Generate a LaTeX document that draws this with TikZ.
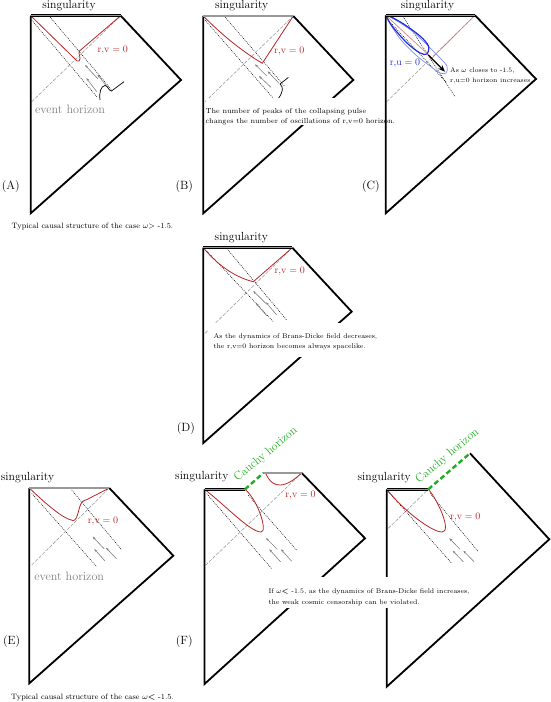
\documentclass[tikz,border=0pt]{standalone}
\usepackage{tikz}
\usetikzlibrary{arrows.meta}
\usepackage{amssymb}
\usepackage{amsmath}

\definecolor{rvred}{RGB}{185,35,35}
\definecolor{rufaint}{RGB}{215,120,120}
\definecolor{rublue}{RGB}{35,45,225}
\definecolor{rulight}{RGB}{125,140,250}
\definecolor{cgreen}{RGB}{30,175,30}

\tikzset{
  frame/.style={line width=1.8bp},
  sing/.style={line width=0.75bp, double=gray!80, double distance=1.2bp},
  nullray/.style={dash pattern=on 0.9bp off 1.1bp, line width=0.5bp},
  eh/.style={gray!75, dash pattern=on 3.5bp off 1.5bp, line width=0.6bp},
  rv/.style={rvred, line width=0.8bp},
  flux/.style={gray, line width=0.6bp, -{Stealth[length=3.2bp,width=2.4bp]}},
  pulse/.style={line width=0.7bp},
  cauchy/.style={cgreen, line width=2.4bp, dash pattern=on 5bp off 3bp},
  singlabel/.style={anchor=base, inner sep=0pt, font=\fontsize{11.8}{14}\selectfont},
  rvlabel/.style={anchor=base, inner sep=0pt, rvred, font=\fontsize{10.3}{12}\selectfont},
  ehlabel/.style={anchor=base, inner sep=0pt, gray, font=\fontsize{12.2}{14}\selectfont},
  tag/.style={anchor=base, inner sep=0pt, font=\fontsize{12}{14}\selectfont},
  caption/.style={anchor=base, inner sep=0pt, font=\fontsize{7.8}{10}\selectfont},
  note/.style={anchor=base west, inner sep=0pt, font=\fontsize{6.7}{10}\selectfont},
  cauchylabel/.style={anchor=base west, inner sep=0pt, cgreen, rotate=40, font=\fontsize{11.8}{14}\selectfont}
}

\begin{document}
\begin{tikzpicture}[x=1bp,y=-1bp]
\useasboundingbox (0,0) rectangle (551,702);

% ---------- (A) ----------
\coordinate (A-tl) at (30.7,15.7);
\coordinate (A-tr) at (120.7,15.7);
\coordinate (A-r) at (181,80);
\coordinate (A-b) at (30.7,213.3);
\draw[nullray] (31.7,20) -- (96.7,96.7);
\draw[nullray] (50,17) -- (111.7,90);
\draw[eh] (31.7,101.7) -- (A-tr);
\draw[rv] (A-tl) -- (75,59) .. controls (77.5,62.8) and (82,62.5) .. (79,53.5) -- (79.5,51) -- (A-tr);
\foreach \tx/\ty/\hx/\hy in {98/79/85/65, 96.7/91.7/86.3/78, 108/88/97.5/74.5}
  \draw[flux] (\tx,\ty) -- (\hx,\hy);
\draw[pulse] (100,100) .. controls (99,92) and (101,86) .. (105,85.5) .. controls (108,85.5) and (108.5,91) .. (111.5,91) -- (124,81.7);
\draw[frame] (A-tl) -- (A-b) -- (A-r) -- (A-tr);
\draw[sing] (A-tl) -- (A-tr);
\node[singlabel] (A-sing) at (69,9) {singularity};
\node[rvlabel] (A-rv) at (112.7,53) {$\mathrm{r{,}v}=0$};
\node[ehlabel] (A-eh) at (70,114) {event horizon};
\node[tag] (A-tag) at (10.8,189) {(A)};
\node[caption] (A-cap) at (92.5,228) {Typical causal structure of the case $\omega{>}$ -1.5.};

% ---------- (B) ----------
\coordinate (B-tl) at (203.3,16);
\coordinate (B-tr) at (293.3,16);
\coordinate (B-r) at (353.3,80);
\coordinate (B-b) at (203.3,213.3);
\draw[nullray] (205,20) -- (273.3,98.3);
\draw[nullray] (225,17) -- (285,86.7);
\draw[eh] (205,101.7) -- (B-tr);
\draw[rv] (B-tl) .. controls (225,38) and (245,53) .. (262.3,63.3) -- (B-tr);
\foreach \tx/\ty/\hx/\hy in {266.7/76/255/64.3, 271/87.3/259/76, 279/83.3/267.7/71.3}
  \draw[flux] (\tx,\ty) -- (\hx,\hy);
\draw[pulse] (277.5,99.5) .. controls (283,93) and (284,87) .. (280,84) -- (288.3,77.5);
\draw[frame] (B-tl) -- (B-b) -- (B-r) -- (B-tr);
\draw[sing] (B-tl) -- (B-tr);
\node[singlabel] (B-sing) at (241.7,9) {singularity};
\node[rvlabel] (B-rv) at (289.3,53.3) {$\mathrm{r{,}v}=0$};
\node[tag] (B-tag) at (184.2,189) {(B)};
\fill[white] (206,98) rectangle (370,125.5);
\node[note, font=\fontsize{7.3}{10}\selectfont] (B-note1) at (205.5,113.5) {The number of peaks of the collapsing pulse};
\node[note, font=\fontsize{7.3}{10}\selectfont] (B-note2) at (205.5,123.5) {changes the number of oscillations of r,v=0 horizon.};

% ---------- (C) ----------
\coordinate (C-tl) at (385.7,15.3);
\coordinate (C-tr) at (475,15.3);
\coordinate (C-r) at (536,79);
\coordinate (C-b) at (385.7,213.3);
\draw[nullray] (403,16.5) -- (455,96.7);
\draw[nullray] (388,20) -- (446,82);
\draw[eh] (386.7,101.7) -- (C-tr);
\draw[rufaint, line width=0.6bp] (C-tl) -- (432,58) -- (C-tr);
\draw[rulight, line width=0.7bp] plot[smooth cycle] coordinates {(387,15.5) (412,31) (437,55) (447,66) (446,73) (440,73) (430,66) (417,56) (401,40) (389,22)};
\draw[rublue, line width=1.2bp] plot[smooth cycle] coordinates {(387,15.5) (402,23) (420,36) (428.5,46) (427,54) (420,53) (407,43) (392,26)};
\draw[line width=1.3bp, -{Stealth[length=7bp,width=5.5bp]}] (428.3,55) -- (445,71.7);
\draw[frame] (C-tl) -- (C-b) -- (C-r) -- (C-tr);
\draw[sing] (C-tl) -- (C-tr);
\node[singlabel] (C-sing) at (427.5,9) {singularity};
\node[rvlabel, rublue] (C-ru) at (405,65.7) {$\mathrm{r{,}u}=0$};
\node[tag] (C-tag) at (370.8,189) {(C)};
\node[note] (C-note1) at (450,72.3) {As $\omega$ closes to -1.5,};
\node[note, font=\fontsize{6.4}{10}\selectfont] (C-note2) at (450,82.7) {r,u=0 horizon increases.};

% ---------- (D) ----------
\coordinate (D-tl) at (203.3,247.7);
\coordinate (D-tr) at (292.3,247.7);
\coordinate (D-r) at (351.7,311.7);
\coordinate (D-b) at (203.3,443);
\draw[nullray] (206.7,251) -- (273.3,321.7);
\draw[nullray] (226.7,248.5) -- (286.7,320);
\draw[eh] (205,333.3) -- (D-tr);
\draw[rv] (D-tl) .. controls (220,268) and (238,278) .. (253.3,281.7) -- (D-tr);
\foreach \tx/\ty/\hx/\hy in {265.7/303.3/253.3/291, 266.7/315.7/256/303.3, 276.7/315/266/302.3}
  \draw[flux] (\tx,\ty) -- (\hx,\hy);
\draw[frame] (D-tl) -- (D-b) -- (D-r) -- (D-tr);
\draw[sing] (D-tl) -- (D-tr);
\node[singlabel] (D-sing) at (241.3,240) {singularity};
\node[rvlabel] (D-rv) at (289.7,273.3) {$\mathrm{r{,}v}=0$};
\node[tag] (D-tag) at (185.8,431.7) {(D)};
\fill[white] (208,323.3) rectangle (356,357);
\node[note, font=\fontsize{6.9}{10}\selectfont] (D-note1) at (213.3,338.3) {As the dynamics of Brans-Dicke field decreases,};
\node[note, font=\fontsize{6.9}{10}\selectfont] (D-note2) at (213.3,348.7) {the r,v=0 horizon becomes always spacelike.};

% ---------- (E) ----------
\coordinate (E-tl) at (29.3,488);
\coordinate (E-tr) at (109.3,488);
\coordinate (E-r) at (173.3,555.7);
\coordinate (E-b) at (29.3,683.3);
\draw[nullray] (31.7,493.3) -- (96.7,566.7);
\draw[nullray] (71.7,490) -- (121.7,550);
\draw[eh] (31.7,565) -- (E-tr);
\draw[rv] (E-tl) .. controls (45,503) and (63,519) .. (73,520.5) .. controls (78,521) and (78.5,506) .. (82,502) .. controls (83.5,500.5) and (85.5,500) .. (87,499.5) -- (E-tr);
\foreach \tx/\ty/\hx/\hy in {104.3/549/92.7/536.7, 105/561/94.3/549, 116.7/559/106/547.7}
  \draw[flux] (\tx,\ty) -- (\hx,\hy);
\draw[frame] (E-tl) -- (E-b) -- (E-r) -- (E-tr);
\draw[sing] (E-tl) -- (E-tr);
\node[singlabel] (E-sing) at (27.5,480) {singularity};
\node[rvlabel] (E-rv) at (103,523.3) {$\mathrm{r{,}v}=0$};
\node[ehlabel] (E-eh) at (69.2,580.7) {event horizon};
\node[tag] (E-tag) at (11.7,644) {(E)};
\node[caption] (E-cap) at (92.5,699.3) {Typical causal structure of the case $\omega{\boldsymbol{<}}$ -1.5.};

% ---------- (F), left ----------
\coordinate (F1-tl) at (204.5,489.3);
\coordinate (F1-m) at (245,489.3);
\coordinate (F1-n) at (263.3,473);
\coordinate (F1-tr) at (301.7,473);
\coordinate (F1-r) at (365,538.3);
\coordinate (F1-b) at (204.5,684);
\draw[nullray] (206.7,493.7) -- (271.7,568.7);
\draw[nullray] (248.3,495.3) -- (296.7,550.3);
\draw[eh] (205.5,565.3) -- (F1-tr);
\draw[rv] (F1-tl) .. controls (225,505) and (250,532) .. (261,532) .. controls (268,532) and (258,500) .. (F1-m);
\draw[rv] (265.5,473) .. controls (270,483) and (275,485) .. (280,485) .. controls (288,485) and (296,478) .. (F1-tr);
\foreach \tx/\ty/\hx/\hy in {277.3/549.3/266/538, 280.7/562/269.3/549.3, 291.7/561.3/281/549.3}
  \draw[flux] (\tx,\ty) -- (\hx,\hy);
\draw[frame] (F1-tl) -- (F1-b) -- (F1-r) -- (F1-tr);
\draw[sing] (F1-tl) -- (F1-m);
\draw[sing] (F1-n) -- (F1-tr);
\draw[cauchy] (F1-m) -- (F1-n);
\node[singlabel] (F1-sing) at (201.8,479.3) {singularity};
\node[rvlabel] (F1-rv) at (300.5,497) {$\mathrm{r{,}v}=0$};
\node[cauchylabel] (F1-cauchy) at (237.5,482) {Cauchy horizon};
\node[tag] (F-tag) at (184.2,644) {(F)};

% ---------- (F), right ----------
\coordinate (F2-tl) at (386.7,489.3);
\coordinate (F2-m) at (428.3,489.3);
\coordinate (F2-tr) at (470,453.3);
\coordinate (F2-r) at (549.3,539.3);
\coordinate (F2-b) at (386.7,686.7);
\draw[nullray] (388.3,491.7) -- (451.7,563.3);
\draw[nullray] (430,493.3) -- (478.3,551.7);
\draw[eh] (388.3,528.3) -- (F2-m);
\draw[rv] (F2-tl) .. controls (405,512) and (432,532) .. (442,532) .. controls (452,532) and (438,500) .. (F2-m);
\foreach \tx/\ty/\hx/\hy in {460/549.3/449.3/538.3, 463.3/561.7/452.7/550.7, 474/561.7/463.3/550.7}
  \draw[flux] (\tx,\ty) -- (\hx,\hy);
\draw[frame] (F2-tl) -- (F2-b) -- (F2-r) -- (F2-tr);
\draw[sing] (F2-tl) -- (F2-m);
\draw[cauchy] (F2-m) -- (F2-tr);
\node[singlabel] (F2-sing) at (384.2,480.7) {singularity};
\node[rvlabel] (F2-rv) at (465.3,519) {$\mathrm{r{,}v}=0$};
\node[cauchylabel] (F2-cauchy) at (419,483.5) {Cauchy horizon};

% note across both (F) diagrams
\fill[white] (266,577) rectangle (446,608);
\node[note, font=\fontsize{6.9}{10}\selectfont] (F-note1) at (268.3,593.3) {If $\omega{\boldsymbol{<}}$ -1.5, as the dynamics of Brans-Dicke field increases,};
\node[note, font=\fontsize{6.9}{10}\selectfont] (F-note2) at (268.3,604.3) {the weak cosmic censorship can be violated.};
\end{tikzpicture}
\end{document}
